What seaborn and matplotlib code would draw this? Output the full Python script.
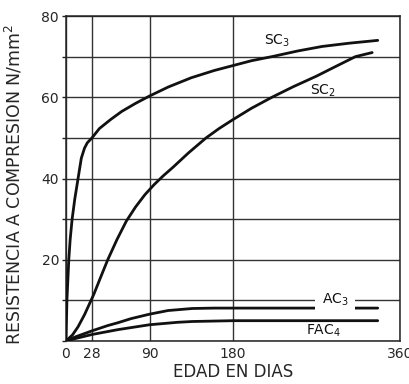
import numpy as np
import pandas as pd
import matplotlib
matplotlib.use("Agg")
import matplotlib.pyplot as plt
import seaborn as sns

# Data (days, N/mm^2)
sc3_days = [0, 0.5, 1, 2, 3, 4.5, 6.6, 9.5, 13, 16.5, 20, 23, 28, 36, 48, 60, 75, 90,
            110, 135, 160, 180, 200, 222, 250, 276, 305, 336]
sc3_vals = [0, 5, 10, 15, 20, 25, 30, 35, 40, 45, 47.5, 48.8, 50, 52.3, 54.5, 56.5, 58.5, 60.3,
            62.5, 64.8, 66.6, 67.8, 69, 70, 71.4, 72.5, 73.3, 74]

sc2_days = [0, 7, 13, 20, 26, 30, 37, 45, 55, 65, 75, 85, 95, 105, 115, 132, 151, 165, 180,
            200, 222, 245, 270, 290, 312, 330]
sc2_vals = [0, 1.5, 3.5, 6.5, 9.5, 11.5, 15.5, 20, 25, 29.5, 33, 36, 38.5, 40.7, 42.7, 46.3, 50, 52.3, 54.5,
            57.3, 60, 62.6, 65.2, 67.5, 70, 71]

ac3_days = [0, 10, 28, 45, 56, 70, 90, 110, 136, 160, 180, 336]
ac3_vals = [0, 1.0, 2.5, 3.8, 4.5, 5.5, 6.6, 7.5, 8.0, 8.1, 8.1, 8.1]

fac4_days = [0, 10, 28, 56, 90, 120, 136, 180, 336]
fac4_vals = [0, 0.6, 1.6, 2.8, 4.0, 4.6, 4.8, 5.0, 5.0]

x_ticks = [0, 28, 90, 180, 360]
y_ticks = [0, 10, 20, 30, 40, 50, 60, 70, 80]
y_tick_labels = ["", "", "20", "", "40", "", "60", "", "80"]

sns.set_theme(style="white")
plt.rcParams["font.family"] = ["DejaVu Sans"]
plt.rcParams["mathtext.fontset"] = "dejavusans"

fig = plt.figure(figsize=(4.10, 3.84), dpi=100)
ax = fig.add_axes([66 / 410, 43 / 384, 334 / 410, 325 / 384])

series = [(sc3_days, sc3_vals), (sc2_days, sc2_vals), (ac3_days, ac3_vals), (fac4_days, fac4_vals)]
for d, v in series:
    df = pd.DataFrame({"x": d, "y": v})
    sns.lineplot(data=df, x="x", y="y", ax=ax, color="#111111", linewidth=2.0, zorder=3)

ax.set_xlim(0, 360)
ax.set_ylim(0, 80)
ax.set_xticks(x_ticks)
ax.set_xticklabels([str(t) for t in x_ticks], fontsize=10)
ax.set_yticks(y_ticks)
ax.set_yticklabels(y_tick_labels, fontsize=10)
ax.grid(True, color="#333333", linewidth=1.0)
ax.set_axisbelow(True)
for s in ax.spines.values():
    s.set_color("#222222")
    s.set_linewidth(1.1)
ax.tick_params(axis="y", left=True, length=3, width=1, color="#222222", pad=2)
ax.tick_params(axis="x", bottom=False, length=0, pad=4)

ax.set_xlabel("EDAD EN DIAS", fontsize=12, labelpad=2)
ax.set_ylabel("RESISTENCIA A COMPRESION N/mm$^2$", fontsize=12.5)
ax.yaxis.set_label_coords(-0.125, 0.48)

ax.text(227, 73.9, "SC$_3$", fontsize=10, ha="center", va="center", color="#111111")
ax.text(277, 61.6, "SC$_2$", fontsize=10, ha="center", va="center", color="#111111")
ax.text(290, 10.2, "AC$_3$", fontsize=10, ha="center", va="center", color="#111111",
        bbox=dict(facecolor="white", edgecolor="none", boxstyle="square,pad=0.5"), zorder=4)
ax.text(277, 2.6, "FAC$_4$", fontsize=10, ha="center", va="center", color="#111111")

fig.savefig("out.png", dpi=100)
